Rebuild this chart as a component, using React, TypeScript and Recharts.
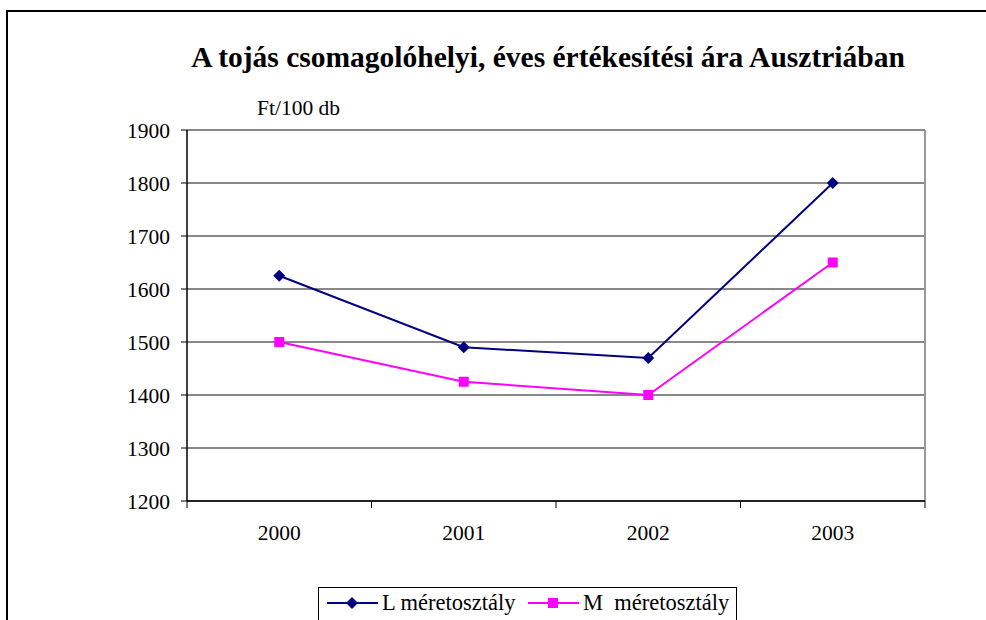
import React from 'react';
import { LineChart, Line, XAxis, YAxis, CartesianGrid, ReferenceLine, Legend } from 'recharts';

const years = ['2000', '2001', '2002', '2003'];
const lValues = [1625, 1490, 1470, 1800];
const mValues = [1500, 1425, 1400, 1650];
const yTicks = [1200, 1300, 1400, 1500, 1600, 1700, 1800, 1900];
const seriesNames = ['L méretosztály', 'M  méretosztály'];
const seriesColors = ['#000080', '#FF00FF'];
const title = 'A tojás csomagolóhelyi, éves értékesítési ára Ausztriában';
const unitLabel = 'Ft/100 db';

const data = years.map((y, i) => ({ x: i + 0.5, year: y, L: lValues[i], M: mValues[i] }));
const xTicks: number[] = [];
for (let i = 0; i <= years.length * 2; i++) xTicks.push(i / 2);

const FONT = '"Liberation Serif", "Times New Roman", serif';

const XTick = (props: any) => {
  const { x, y, payload } = props;
  const v = payload.value as number;
  if (Number.isInteger(v)) {
    return <line x1={x} x2={x} y1={y} y2={y + 7} stroke="#000" strokeWidth={1} />;
  }
  const idx = Math.floor(v);
  return (
    <text x={x} y={y + 34} textAnchor="middle" dominantBaseline="middle" fontFamily={FONT} fontSize={21.5} fill="#000">
      {years[idx]}
    </text>
  );
};

const Diamond = (props: any) => {
  const { cx, cy, fill } = props;
  if (cx == null || cy == null) return null;
  const r = 6;
  return <path d={`M${cx},${cy - r}L${cx + r},${cy}L${cx},${cy + r}L${cx - r},${cy}Z`} fill={fill} />;
};

const Square = (props: any) => {
  const { cx, cy, fill } = props;
  if (cx == null || cy == null) return null;
  const s = 5;
  return <rect x={cx - s} y={cy - s} width={2 * s} height={2 * s} fill={fill} />;
};

const LegendContent = () => (
  <div
    style={{
      width: 419,
      height: 40,
      border: '1px solid #000',
      boxSizing: 'border-box',
      background: '#fff',
      fontFamily: FONT,
      fontSize: 22.5,
      position: 'relative',
      whiteSpace: 'pre',
    }}
  >
    {seriesNames.map((name, i) => {
      const left = i === 0 ? 8 : 209;
      return (
        <div key={name} style={{ position: 'absolute', left, top: 1, display: 'flex', alignItems: 'center', height: 28 }}>
          <svg width={51} height={16} style={{ display: 'block' }}>
            <line x1={0} x2={51} y1={8} y2={8} stroke={seriesColors[i]} strokeWidth={2} />
            {i === 0 ? <Diamond cx={25} cy={8} fill={seriesColors[i]} /> : <Square cx={25} cy={8} fill={seriesColors[i]} />}
          </svg>
          <span style={{ marginLeft: 4, color: '#000', lineHeight: '28px' }}>{name}</span>
        </div>
      );
    })}
  </div>
);

export default function App() {
  return (
    <div style={{ position: 'absolute', left: 0, top: 0, width: 986, height: 620, background: '#fff', overflow: 'hidden' }}>
      <div
        style={{
          position: 'absolute',
          left: 6,
          top: 10,
          width: 1000,
          height: 700,
          borderTop: '2px solid #000',
          borderLeft: '2px solid #000',
        }}
      />
      <div
        style={{
          position: 'absolute',
          left: 0,
          width: 1096,
          top: 39,
          textAlign: 'center',
          fontFamily: FONT,
          fontWeight: 'bold',
          fontSize: 29.5,
          lineHeight: '36px',
          color: '#000',
          whiteSpace: 'nowrap',
        }}
      >
        {title}
      </div>
      <div
        style={{
          position: 'absolute',
          left: 257,
          top: 95,
          fontFamily: FONT,
          fontSize: 21.5,
          lineHeight: '26px',
          color: '#000',
          whiteSpace: 'nowrap',
        }}
      >
        {unitLabel}
      </div>
      <div style={{ position: 'absolute', left: 0, top: 0 }}>
        <LineChart width={986} height={620} data={data} margin={{ top: 130, right: 61, bottom: 89, left: 0 }}>
          <CartesianGrid vertical={false} horizontal={true} stroke="#111" strokeWidth={1} />
          <XAxis
            dataKey="x"
            type="number"
            domain={[0, 4]}
            ticks={xTicks}
            interval={0}
            tick={<XTick />}
            tickLine={false}
            tickSize={0}
            tickMargin={0}
            height={30}
            axisLine={{ stroke: '#000', strokeWidth: 1.5 }}
          />
          <YAxis
            type="number"
            domain={[1200, 1900]}
            ticks={yTicks}
            interval={0}
            width={187}
            tickSize={6}
            tickMargin={11}
            tickLine={{ stroke: '#000' }}
            axisLine={{ stroke: '#000', strokeWidth: 1.5 }}
            tick={{ fontFamily: FONT, fontSize: 21.5, fill: '#000' }}
          />
          <ReferenceLine x={4} stroke="#999" strokeWidth={2} />
          <Line
            dataKey="L"
            name={seriesNames[0]}
            stroke={seriesColors[0]}
            strokeWidth={2}
            dot={<Diamond />}
            fill={seriesColors[0]}
            isAnimationActive={false}
          />
          <Line
            dataKey="M"
            name={seriesNames[1]}
            stroke={seriesColors[1]}
            strokeWidth={2}
            dot={<Square />}
            fill={seriesColors[1]}
            isAnimationActive={false}
          />
          <Legend
            layout="horizontal"
            verticalAlign="middle"
            align="center"
            content={<LegendContent />}
            wrapperStyle={{ position: 'absolute', left: 318, top: 587, width: 419, height: 40 }}
          />
        </LineChart>
      </div>
    </div>
  );
}
